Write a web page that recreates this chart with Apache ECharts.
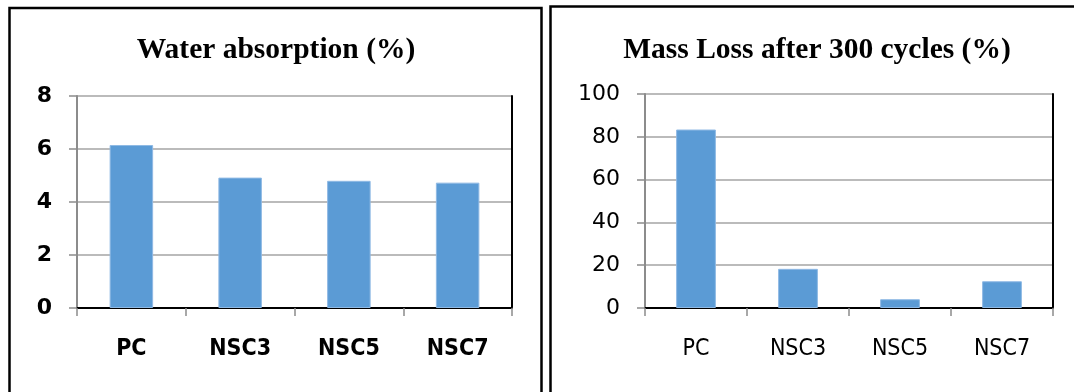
<!DOCTYPE html>
<html>
<head>
<meta charset="utf-8">
<script src="https://cdn.jsdelivr.net/npm/echarts@6/dist/echarts.min.js"></script>
<style>
  html, body { margin: 0; padding: 0; background: #fff; }
  #chart { width: 1074px; height: 392px; }
</style>
</head>
<body>
<div id="chart"></div>
<script>
// Specimen groups
const categories = ['PC', 'NSC3', 'NSC5', 'NSC7'];

// Water absorption (%)
const waterAbsorption = [6.15, 4.92, 4.8, 4.73];
const waterAxis = { min: 0, max: 8, interval: 2 };

// Mass loss after 300 freeze-thaw cycles (%)
const massLoss = [83.4, 18.3, 4.1, 12.5];
const massAxis = { min: 0, max: 100, interval: 20 };

const titles = ['Water absorption (%)', 'Mass Loss after 300 cycles (%)'];

const BAR = '#5b9bd5';
const GRID_LINE = '#a5a5a5';
const AXIS_LINE = '#8c8c8c';
const narrow = '"DejaVu Sans Condensed", "Liberation Sans Narrow", "Liberation Sans", sans-serif';

function valueAxis(gridIndex, range, bold) {
  return {
    type: 'value', gridIndex, position: 'left',
    min: range.min, max: range.max, interval: range.interval,
    axisLine: { show: true, lineStyle: { color: AXIS_LINE, width: 2 } },
    axisTick: { show: true, length: 8, lineStyle: { color: AXIS_LINE, width: 1.5 } },
    splitLine: { show: true, lineStyle: { color: GRID_LINE, width: 1.5 } },
    axisLabel: {
      margin: 25, color: '#000',
      fontFamily: 'DejaVu Sans', fontSize: 22,
      fontWeight: bold ? 'bold' : 'normal'
    }
  };
}

function categoryAxis(gridIndex, bold, size) {
  return {
    type: 'category', gridIndex, position: 'bottom',
    data: categories, boundaryGap: true,
    axisLine: { show: true, lineStyle: { color: AXIS_LINE, width: 2 } },
    axisTick: { show: true, length: 8, alignWithLabel: false, lineStyle: { color: AXIS_LINE, width: 1.5 } },
    axisLabel: {
      margin: 30, color: '#000', interval: 0,
      fontFamily: narrow, fontSize: size,
      fontWeight: bold ? 'bold' : 'normal'
    }
  };
}

// Black frame on the top and right of each plot area
function frameX(gridIndex) {
  return {
    type: 'category', gridIndex, position: 'top', data: categories,
    axisLine: { show: true, lineStyle: { color: '#000', width: 2 } },
    axisTick: { show: false }, axisLabel: { show: false }, splitLine: { show: false }
  };
}
function frameY(gridIndex, range) {
  return {
    type: 'value', gridIndex, position: 'right',
    min: range.min, max: range.max, interval: range.interval,
    axisLine: { show: true, lineStyle: { color: '#000', width: 2 } },
    axisTick: { show: false }, axisLabel: { show: false }, splitLine: { show: false }
  };
}

const titleStyle = {
  fontFamily: '"Liberation Serif", "Times New Roman", serif',
  fontWeight: 'bold', fontSize: 29.5, color: '#000'
};

const option = {
  animation: false,
  backgroundColor: '#fff',
  title: [
    { text: titles[0], left: 271, top: 30, textAlign: 'center', textStyle: titleStyle },
    { text: titles[1], left: 812, top: 30, textAlign: 'center', textStyle: titleStyle }
  ],
  grid: [
    { left: 77, top: 96, width: 435, height: 212 },
    { left: 645, top: 94, width: 408, height: 214 }
  ],
  xAxis: [
    categoryAxis(0, true, 23),
    categoryAxis(1, false, 23),
    frameX(0),
    frameX(1)
  ],
  yAxis: [
    valueAxis(0, waterAxis, true),
    valueAxis(1, massAxis, false),
    frameY(0, waterAxis),
    frameY(1, massAxis)
  ],
  series: [
    {
      type: 'bar', xAxisIndex: 0, yAxisIndex: 0, data: waterAbsorption,
      barWidth: '40%',
      itemStyle: { color: BAR, borderColor: '#8fb9e4', borderWidth: 1 }
    },
    {
      type: 'bar', xAxisIndex: 1, yAxisIndex: 1, data: massLoss,
      barWidth: '39%',
      itemStyle: { color: BAR, borderColor: '#8fb9e4', borderWidth: 1 }
    }
  ],
  graphic: [
    {
      type: 'rect', z: 100, silent: true,
      shape: { x: 9.5, y: 8, width: 532, height: 500 },
      style: { fill: 'none', stroke: '#000', lineWidth: 2.5 }
    },
    {
      type: 'rect', z: 100, silent: true,
      shape: { x: 550.5, y: 6.5, width: 540, height: 500 },
      style: { fill: 'none', stroke: '#000', lineWidth: 2.5 }
    }
  ]
};

const chart = echarts.init(document.getElementById('chart'), null, { renderer: 'canvas' });
chart.setOption(option);
</script>
</body>
</html>
